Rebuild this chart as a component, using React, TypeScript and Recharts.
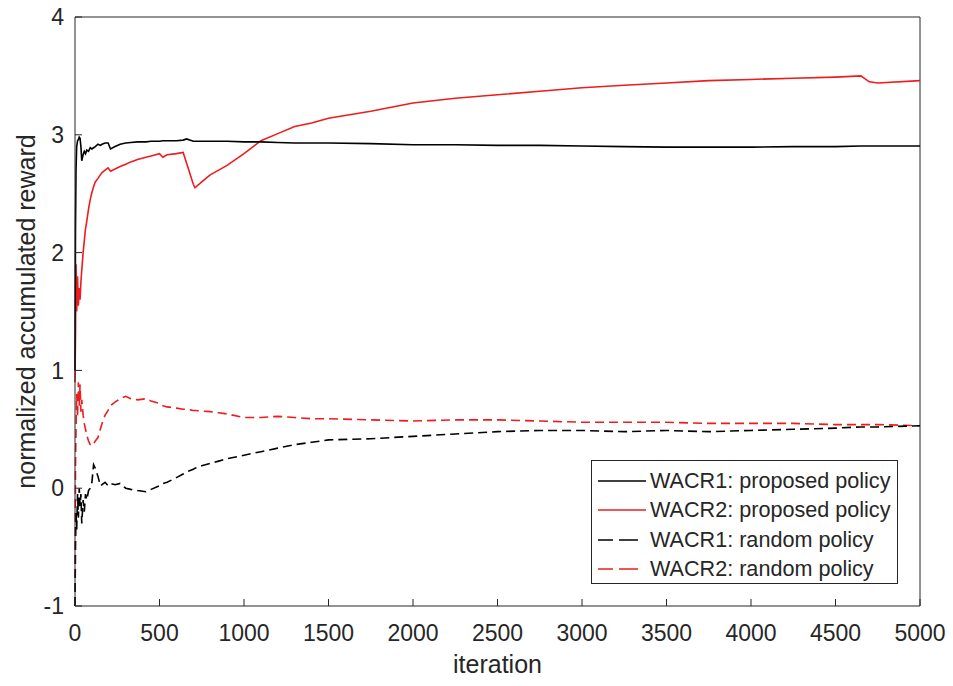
import React from "react";
import { LineChart, Line, XAxis, YAxis, ReferenceLine } from "recharts";

// sampled iterations (denser near the start where the curves move fast)
const iterations = [
  0, 3, 6, 10, 15, 20, 25, 30, 35, 40, 48, 55, 62, 70, 80, 90, 100, 110, 120,
  136, 150, 160, 178, 196, 210, 237, 267, 300, 330, 370, 420, 450, 500, 520,
  545, 600, 640, 660, 700, 710, 750, 800, 850, 900, 1000, 1100, 1200, 1300,
  1400, 1500, 1750, 2000, 2250, 2500, 2750, 3000, 3250, 3500, 3750, 4000,
  4250, 4500, 4650, 4700, 4750, 5000,
];

const wacr1Proposed = [
  1.0, 2.2, 2.7, 2.9, 2.95, 2.96, 2.98, 2.97, 2.9, 2.78, 2.83, 2.86, 2.84,
  2.87, 2.86, 2.89, 2.88, 2.89, 2.9, 2.92, 2.91, 2.92, 2.93, 2.93, 2.88, 2.9,
  2.92, 2.93, 2.935, 2.94, 2.94, 2.945, 2.945, 2.95, 2.95, 2.95, 2.955, 2.965,
  2.945, 2.945, 2.945, 2.945, 2.945, 2.945, 2.94, 2.94, 2.935, 2.93, 2.93,
  2.93, 2.925, 2.915, 2.915, 2.91, 2.91, 2.905, 2.9, 2.895, 2.895, 2.895, 2.9,
  2.9, 2.905, 2.905, 2.905, 2.905,
];

const wacr2Proposed = [
  0.9, 1.3, 1.9, 1.5, 1.8, 1.55, 1.7, 1.6, 1.75, 1.85, 2.0, 2.1, 2.2, 2.27,
  2.37, 2.45, 2.51, 2.56, 2.6, 2.63, 2.66, 2.68, 2.7, 2.72, 2.69, 2.71, 2.73,
  2.75, 2.77, 2.79, 2.81, 2.82, 2.84, 2.81, 2.83, 2.84, 2.85, 2.76, 2.58,
  2.55, 2.6, 2.66, 2.7, 2.74, 2.84, 2.95, 3.01, 3.07, 3.1, 3.14, 3.2, 3.27,
  3.31, 3.34, 3.37, 3.4, 3.42, 3.44, 3.46, 3.47, 3.48, 3.49, 3.5, 3.45, 3.44,
  3.46,
];

const wacr1Random = [
  -1.0, -0.5, -0.2, -0.35, -0.05, -0.25, 0.0, -0.15, -0.05, -0.3, -0.1, -0.2,
  -0.05, -0.1, -0.02, 0.0, 0.05, 0.2, 0.17, 0.1, 0.02, 0.03, 0.05, 0.02, 0.04,
  0.03, 0.04, 0.0, -0.01, -0.02, -0.03, -0.01, 0.02, 0.04, 0.05, 0.09, 0.12,
  0.14, 0.16, 0.17, 0.19, 0.21, 0.23, 0.25, 0.28, 0.31, 0.34, 0.37, 0.39,
  0.41, 0.42, 0.44, 0.46, 0.48, 0.49, 0.49, 0.48, 0.49, 0.48, 0.49, 0.5, 0.51,
  0.52, 0.52, 0.52, 0.53,
];

const wacr2Random = [
  -1.0, 0.2, 0.5, 0.8, 0.6, 0.9, 0.7, 0.88, 0.65, 0.75, 0.62, 0.55, 0.5, 0.45,
  0.4, 0.37, 0.36, 0.38, 0.4, 0.43, 0.5, 0.55, 0.62, 0.66, 0.7, 0.73, 0.76,
  0.78, 0.76, 0.75, 0.76, 0.74, 0.72, 0.7, 0.69, 0.68, 0.67, 0.67, 0.66, 0.66,
  0.655, 0.65, 0.64, 0.63, 0.6, 0.6, 0.61, 0.6, 0.59, 0.59, 0.58, 0.57, 0.58,
  0.58, 0.57, 0.56, 0.56, 0.56, 0.55, 0.55, 0.55, 0.54, 0.54, 0.54, 0.54, 0.53,
];

const xTicks = [0, 500, 1000, 1500, 2000, 2500, 3000, 3500, 4000, 4500, 5000];
const yTicks = [-1, 0, 1, 2, 3, 4];

const data = iterations.map((it, i) => ({
  iteration: it,
  wacr1Proposed: wacr1Proposed[i],
  wacr2Proposed: wacr2Proposed[i],
  wacr1Random: wacr1Random[i],
  wacr2Random: wacr2Random[i],
}));

const AXIS = "#262626";
const RED = "#ee1c1c";
const FONT = "'Liberation Sans', Arial, Helvetica, sans-serif";

const legendItems = [
  { label: "WACR1: proposed policy", color: "#000", dashed: false },
  { label: "WACR2: proposed policy", color: RED, dashed: false },
  { label: "WACR1: random policy", color: "#000", dashed: true },
  { label: "WACR2: random policy", color: RED, dashed: true },
];

function LegendBox() {
  return (
    <div
      style={{
        position: "absolute",
        left: 591,
        top: 460,
        width: 307,
        height: 124,
        border: `1px solid ${AXIS}`,
        background: "#fff",
        paddingTop: 5,
        boxSizing: "border-box",
        fontFamily: FONT,
        fontSize: 21.6,
        color: AXIS,
      }}
    >
      {legendItems.map((item) => (
        <div
          key={item.label}
          style={{ height: 29.5, display: "flex", alignItems: "center", paddingLeft: 6 }}
        >
          <svg width={48} height={6} style={{ marginRight: 4 }}>
            <line
              x1={0}
              y1={3}
              x2={48}
              y2={3}
              stroke={item.color}
              strokeWidth={1.6}
              strokeDasharray={item.dashed ? "15 6 19 20" : undefined}
            />
          </svg>
          <span style={{ whiteSpace: "nowrap" }}>{item.label}</span>
        </div>
      ))}
    </div>
  );
}

function XLabel({ viewBox }: any) {
  const x = viewBox.x + viewBox.width / 2;
  const y = viewBox.y + 67;
  return (
    <text x={x} y={y} textAnchor="middle" fill={AXIS} fontSize={25} fontFamily={FONT}>
      iteration
    </text>
  );
}

function YLabel({ viewBox }: any) {
  const x = 26;
  const y = viewBox.y + viewBox.height / 2;
  return (
    <text
      x={x}
      y={y}
      transform={`rotate(-90 ${x} ${y})`}
      textAnchor="middle"
      dominantBaseline="central"
      fill={AXIS}
      fontSize={25}
      fontFamily={FONT}
    >
      normalized accumulated reward
    </text>
  );
}

const tickStyle = { fill: AXIS, fontSize: 23, fontFamily: FONT };

export default function App() {
  return (
    <div style={{ position: "absolute", left: 0, top: 0, width: 953, height: 686, background: "#fff" }}>
      <LineChart
        width={953}
        height={686}
        data={data}
        margin={{ top: 17, right: 33, bottom: 0, left: 0 }}
      >
        <XAxis
          xAxisId="bottom"
          dataKey="iteration"
          type="number"
          domain={[0, 5000]}
          ticks={xTicks}
          height={80}
          stroke={AXIS}
          tickSize={-7}
          tickMargin={26}
          tick={tickStyle}
          label={<XLabel />}
        />
        <XAxis
          xAxisId="top"
          orientation="top"
          dataKey="iteration"
          type="number"
          domain={[0, 5000]}
          ticks={xTicks}
          height={0}
          stroke={AXIS}
          tickSize={-7}
          tickFormatter={() => ""}
        />
        <YAxis
          yAxisId="left"
          type="number"
          domain={[-1, 4]}
          ticks={yTicks}
          width={75}
          stroke={AXIS}
          tickSize={-7}
          tickMargin={18}
          tick={tickStyle}
          label={<YLabel />}
        />
        <YAxis
          yAxisId="right"
          orientation="right"
          type="number"
          domain={[-1, 4]}
          ticks={yTicks}
          width={0}
          stroke={AXIS}
          tickSize={-7}
          tickFormatter={() => ""}
        />
        <ReferenceLine xAxisId="bottom" yAxisId="left" y={4} stroke={AXIS} />
        <ReferenceLine xAxisId="bottom" yAxisId="left" x={5000} stroke={AXIS} />
        <Line
          xAxisId="top"
          yAxisId="right"
          dataKey="wacr1Proposed"
          stroke="none"
          dot={false}
          legendType="none"
          isAnimationActive={false}
        />
        <Line
          xAxisId="bottom"
          yAxisId="left"
          type="linear"
          dataKey="wacr2Random"
          stroke={RED}
          strokeWidth={1.6}
          strokeDasharray="9 5"
          dot={false}
          isAnimationActive={false}
        />
        <Line
          xAxisId="bottom"
          yAxisId="left"
          type="linear"
          dataKey="wacr1Random"
          stroke="#000"
          strokeWidth={1.6}
          strokeDasharray="9 5"
          dot={false}
          isAnimationActive={false}
        />
        <Line
          xAxisId="bottom"
          yAxisId="left"
          type="linear"
          dataKey="wacr2Proposed"
          stroke={RED}
          strokeWidth={1.6}
          dot={false}
          isAnimationActive={false}
        />
        <Line
          xAxisId="bottom"
          yAxisId="left"
          type="linear"
          dataKey="wacr1Proposed"
          stroke="#000"
          strokeWidth={1.6}
          dot={false}
          isAnimationActive={false}
        />
      </LineChart>
      <LegendBox />
    </div>
  );
}
